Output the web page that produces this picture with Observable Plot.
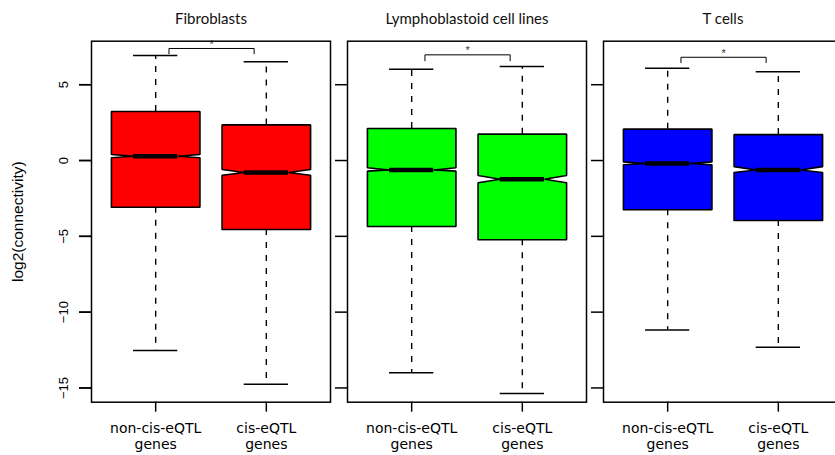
<!DOCTYPE html>
<html><head><meta charset="utf-8">
<script src="https://cdn.jsdelivr.net/npm/d3@7"></script>
<script src="https://cdn.jsdelivr.net/npm/@observablehq/plot@0.6"></script>
<style>body{margin:0;background:#fff;overflow:hidden} #chart svg{overflow:hidden;display:block}</style>
</head><body><div id="chart"></div>
<script>
const panels = ["Fibroblasts", "Lymphoblastoid cell lines", "T cells"];
const panelColors = ["#ff0000", "#00ff00", "#0000ff"];
const groups = ["non-cis-eQTL\ngenes", "cis-eQTL\ngenes"];
const yLabel = "log2(connectivity)";
// values per panel: [non-cis-eQTL genes, cis-eQTL genes]
const whiskerLow  = [[-12.53, -14.75], [-14.00, -15.37], [-11.17, -12.31]];
const q1          = [[-3.08, -4.55], [-4.35, -5.23], [-3.25, -3.96]];
const notchLow    = [[0.18, -0.97], [-0.70, -1.47], [-0.28, -0.79]];
const medians     = [[0.28, -0.79], [-0.62, -1.23], [-0.20, -0.62]];
const notchHigh   = [[0.40, -0.59], [-0.48, -0.99], [-0.09, -0.40]];
const q3          = [[3.23, 2.35], [2.11, 1.74], [2.07, 1.71]];
const whiskerHigh = [[6.93, 6.51], [6.02, 6.20], [6.09, 5.85]];
const bracketLow  = [7.04, 6.58, 6.46];
const bracketHigh = [7.39, 6.97, 6.81];
const bracketFrom = 1.12, bracketTo = 1.89;
const yTicks = [-15, -10, -5, 0, 5];

const HALF = 0.4, NOTCH = 0.2;
const boxes = [];
panels.forEach((panel, p) => groups.forEach((g, i) => boxes.push({
  panel, color: panelColors[p], pos: i + 1, key: panel + i,
  lo: whiskerLow[p][i], q1: q1[p][i], nLo: notchLow[p][i], med: medians[p][i],
  nHi: notchHigh[p][i], q3: q3[p][i], hi: whiskerHigh[p][i]
})));
const outline = boxes.flatMap(b => [
  [b.pos - HALF, b.q1], [b.pos - HALF, b.nLo], [b.pos - NOTCH, b.med], [b.pos - HALF, b.nHi],
  [b.pos - HALF, b.q3], [b.pos + HALF, b.q3], [b.pos + HALF, b.nHi], [b.pos + NOTCH, b.med],
  [b.pos + HALF, b.nLo], [b.pos + HALF, b.q1], [b.pos - HALF, b.q1]
].map(([x, y]) => ({panel: b.panel, key: b.key, x, y})));
const brackets = panels.map((panel, p) => ({panel, lo: bracketLow[p], hi: bracketHigh[p]}));
const bracketPts = brackets.flatMap(b => [
  {panel: b.panel, x: bracketFrom, y: b.lo}, {panel: b.panel, x: bracketFrom, y: b.hi},
  {panel: b.panel, x: bracketTo, y: b.hi}, {panel: b.panel, x: bracketTo, y: b.lo}
]);

const boxMarks = panels.map((panel, p) => Plot.line(outline.filter(d => d.panel === panel), {
  fx: "panel", x: "x", y: "y", z: "key", fill: panelColors[p], stroke: "black", strokeWidth: 1.6, strokeLinejoin: "miter"
}));

const chart = Plot.plot({
  width: 835, height: 455,
  marginLeft: 91, marginRight: -7, marginTop: 40.7, marginBottom: 53.3,
  style: {fontFamily: "Liberation Sans, Arial, sans-serif", background: "white", color: "black"},
  fx: {domain: panels, paddingInner: 17 / 256, paddingOuter: 0, axis: null, label: null},
  x: {domain: [0.42, 2.58]},
  y: {domain: [-15.94, 7.87]},
  marks: [
    Plot.ruleX(boxes, {fx: "panel", x: "pos", y1: "q3", y2: "hi", strokeDasharray: "6,7", strokeWidth: 1.4}),
    Plot.ruleX(boxes, {fx: "panel", x: "pos", y1: "q1", y2: "lo", strokeDasharray: "6,7", strokeWidth: 1.4}),
    Plot.ruleY(boxes, {fx: "panel", y: "hi", x1: d => d.pos - NOTCH, x2: d => d.pos + NOTCH, strokeWidth: 1.5}),
    Plot.ruleY(boxes, {fx: "panel", y: "lo", x1: d => d.pos - NOTCH, x2: d => d.pos + NOTCH, strokeWidth: 1.5}),
    ...boxMarks,
    Plot.ruleY(boxes, {fx: "panel", y: "med", x1: d => d.pos - NOTCH, x2: d => d.pos + NOTCH, strokeWidth: 4.5}),
    Plot.line(bracketPts, {fx: "panel", x: "x", y: "y", z: "panel", stroke: "black", strokeWidth: 1}),
    Plot.text(brackets, {fx: "panel", x: (bracketFrom + bracketTo) / 2, y: "hi", text: () => "*", dy: -4, fill: "#333", fontSize: 11}),
    Plot.text(panels, {fx: d => d, text: d => d, frameAnchor: "top", dy: -28, fontSize: 15, fontFamily: "Lato, sans-serif", fill: "#111"}),
    Plot.frame({stroke: "black", strokeWidth: 1.5}),
    Plot.axisY({ticks: yTicks, tickSize: 12, tickFormat: () => "", facetAnchor: null, label: null, strokeWidth: 1.5}),
    Plot.axisY({ticks: yTicks, tickSize: 12, tickRotate: -90, tickPadding: 12, fontSize: 13, strokeWidth: 1.5, label: null}),
    Plot.text([yLabel], {fx: () => panels[0], text: d => d, frameAnchor: "left", dx: -73, rotate: -90,
      fontSize: 15.5, textAnchor: "middle", lineAnchor: "middle"}),
    Plot.axisX({ticks: [1, 2], tickFormat: i => groups[i - 1], tickSize: 10, tickPadding: 10, fontSize: 14,
      fontFamily: "DejaVu Sans, sans-serif", lineHeight: 1.1, label: null, strokeWidth: 1.5})
  ]
});
document.getElementById("chart").append(chart);
</script></body></html>
